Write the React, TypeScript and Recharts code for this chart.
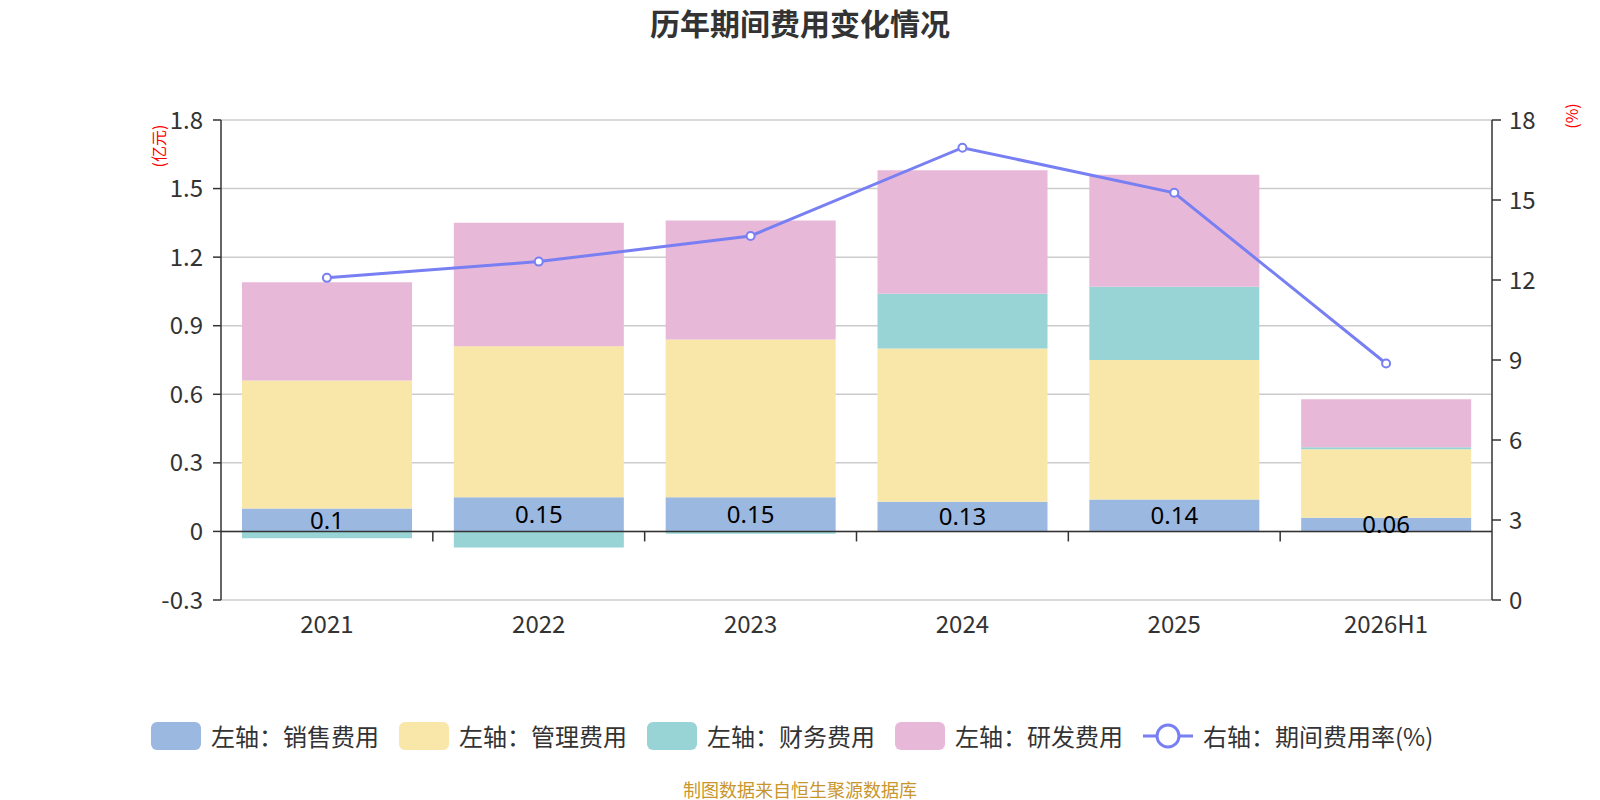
import React from "react";
import {
  ComposedChart,
  Bar,
  Line,
  XAxis,
  YAxis,
  CartesianGrid,
  ReferenceLine,
  LabelList,
} from "recharts";

const categories = ["2021", "2022", "2023", "2024", "2025", "2026H1"];
const salesExpense = [0.1, 0.15, 0.15, 0.13, 0.14, 0.06];
const adminExpense = [0.56, 0.66, 0.69, 0.67, 0.61, 0.3];
const financeExpense = [-0.03, -0.07, -0.01, 0.24, 0.32, 0.008];
const rdExpense = [0.43, 0.54, 0.52, 0.54, 0.49, 0.21];
const expenseRate = [12.08, 12.69, 13.65, 16.96, 15.27, 8.87];

const leftTicks = [-0.3, 0, 0.3, 0.6, 0.9, 1.2, 1.5, 1.8];
const rightTicks = [0, 3, 6, 9, 12, 15, 18];

const COLORS = {
  sales: "#9bb8e1",
  admin: "#f8e7a9",
  finance: "#98d4d5",
  rd: "#e8b8d8",
  rate: "#787ff2",
};

const legendItems = [
  { name: "左轴：销售费用", color: COLORS.sales, kind: "bar" },
  { name: "左轴：管理费用", color: COLORS.admin, kind: "bar" },
  { name: "左轴：财务费用", color: COLORS.finance, kind: "bar" },
  { name: "左轴：研发费用", color: COLORS.rd, kind: "bar" },
  { name: "右轴：期间费用率(%)", color: COLORS.rate, kind: "line" },
];

const data = categories.map((c, i) => ({
  year: c,
  sales: salesExpense[i],
  admin: adminExpense[i],
  finance: financeExpense[i],
  rd: rdExpense[i],
  rate: expenseRate[i],
}));

const FONT = '"Noto Sans CJK SC", "Noto Sans", sans-serif';
const AXIS = "#333";
const TICK_TEXT = { fill: "#333", fontSize: 24 };

// zero line acting as the x axis, with tick marks between categories
function ZeroAxis(props: any) {
  const { x1, y1, x2 } = props;
  const step = (x2 - x1) / categories.length;
  const marks = [];
  for (let i = 1; i < categories.length; i++) {
    const x = x1 + step * i;
    marks.push(
      <line key={i} x1={x} y1={y1} x2={x} y2={y1 + 10} stroke={AXIS} strokeWidth={1.5} />
    );
  }
  return (
    <g>
      <line x1={x1} y1={y1} x2={x2} y2={y1} stroke={AXIS} strokeWidth={1.5} />
      {marks}
    </g>
  );
}

function LegendRow() {
  return (
    <div
      style={{
        position: "absolute",
        left: 151,
        top: 722,
        height: 28,
        display: "flex",
        alignItems: "center",
        fontSize: 24,
        color: "#333",
      }}
    >
      {legendItems.map((item) => (
        <div
          key={item.name}
          style={{
            display: "flex",
            alignItems: "center",
            width: item.kind === "bar" ? 248 : "auto",
          }}
        >
          {item.kind === "bar" ? (
            <div
              style={{ width: 50, height: 28, borderRadius: 6, background: item.color }}
            />
          ) : (
            <svg width={50} height={28}>
              <line x1={0} y1={14} x2={50} y2={14} stroke={item.color} strokeWidth={3} />
              <circle cx={25} cy={14} r={11} fill="#fff" stroke={item.color} strokeWidth={3} />
            </svg>
          )}
          <span style={{ marginLeft: 10, whiteSpace: "nowrap", lineHeight: "28px" }}>
            {item.name}
          </span>
        </div>
      ))}
    </div>
  );
}

export default function App() {
  return (
    <div
      style={{
        position: "absolute",
        left: 0,
        top: 0,
        width: 1600,
        height: 800,
        background: "#fff",
        fontFamily: FONT,
      }}
    >
      <div
        style={{
          position: "absolute",
          left: 0,
          top: 1,
          width: 1600,
          textAlign: "center",
          fontSize: 30,
          fontWeight: "bold",
          color: "#333",
          lineHeight: "42px",
        }}
      >
        历年期间费用变化情况
      </div>

      <ComposedChart
        width={1600}
        height={800}
        data={data}
        stackOffset="sign"
        margin={{ top: 120, right: 0, bottom: 160, left: 0 }}
      >
        <CartesianGrid
          yAxisId="left"
          vertical={false}
          stroke="#ccc"
          strokeWidth={1.5}
        />
        <XAxis
          dataKey="year"
          height={40}
          axisLine={false}
          tickLine={false}
          tickSize={0}
          tickMargin={16}
          tick={TICK_TEXT}
          interval={0}
        />
        <YAxis
          yAxisId="left"
          width={221}
          domain={[-0.3, 1.8]}
          ticks={leftTicks}
          interval={0}
          axisLine={{ stroke: AXIS, strokeWidth: 1.5 }}
          tickLine={{ stroke: AXIS, strokeWidth: 1.5 }}
          tickSize={8}
          tickMargin={10}
          tick={TICK_TEXT}
        />
        <YAxis
          yAxisId="right"
          orientation="right"
          width={108}
          domain={[0, 18]}
          ticks={rightTicks}
          interval={0}
          axisLine={{ stroke: AXIS, strokeWidth: 1.5 }}
          tickLine={{ stroke: AXIS, strokeWidth: 1.5 }}
          tickSize={9}
          tickMargin={8}
          tick={TICK_TEXT}
        />
        <Bar yAxisId="left" dataKey="sales" stackId="a" fill={COLORS.sales} barSize={170} isAnimationActive={false}>
          <LabelList
            dataKey="sales"
            position="center"
            fill="#000"
            fontSize={24}
            style={{ fontFamily: '"Liberation Sans Narrow", "Noto Sans", sans-serif' }}
          />
        </Bar>
        <Bar yAxisId="left" dataKey="admin" stackId="a" fill={COLORS.admin} barSize={170} isAnimationActive={false} />
        <Bar yAxisId="left" dataKey="finance" stackId="a" fill={COLORS.finance} barSize={170} isAnimationActive={false} />
        <Bar yAxisId="left" dataKey="rd" stackId="a" fill={COLORS.rd} barSize={170} isAnimationActive={false} />
        <ReferenceLine yAxisId="left" y={0} shape={ZeroAxis} />
        <Line
          yAxisId="right"
          type="linear"
          dataKey="rate"
          stroke={COLORS.rate}
          strokeWidth={3}
          dot={{ r: 4, fill: "#fff", stroke: COLORS.rate, strokeWidth: 2 }}
          isAnimationActive={false}
        />
      </ComposedChart>

      <div
        style={{
          position: "absolute",
          left: 158,
          top: 146,
          transform: "translate(-50%, -50%) rotate(-90deg)",
          fontSize: 16,
          color: "#f00",
          whiteSpace: "nowrap",
        }}
      >
        (亿元)
      </div>
      <div
        style={{
          position: "absolute",
          left: 1571,
          top: 116,
          transform: "translate(-50%, -50%) rotate(-90deg)",
          fontSize: 16,
          color: "#f00",
          whiteSpace: "nowrap",
        }}
      >
        (%)
      </div>

      <LegendRow />

      <div
        style={{
          position: "absolute",
          left: 0,
          top: 777,
          width: 1600,
          textAlign: "center",
          fontSize: 18,
          lineHeight: "24px",
          color: "#c8962d",
        }}
      >
        制图数据来自恒生聚源数据库
      </div>
    </div>
  );
}
